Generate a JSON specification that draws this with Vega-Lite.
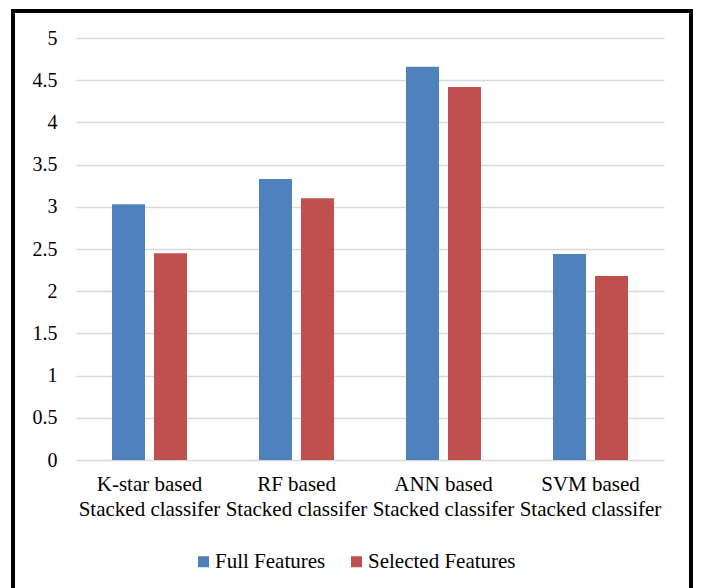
{
  "$schema": "https://vega.github.io/schema/vega-lite/v6.json",
  "autosize": "none",
  "padding": {"left": 13, "top": 11, "right": 10, "bottom": 0},
  "width": 678,
  "height": 580,
  "background": "white",
  "data": {
    "values": [
      {"classifier": "K-star based Stacked classifer", "features": "Full Features", "value": 3.03},
      {"classifier": "K-star based Stacked classifer", "features": "Selected Features", "value": 2.45},
      {"classifier": "RF based Stacked classifer", "features": "Full Features", "value": 3.33},
      {"classifier": "RF based Stacked classifer", "features": "Selected Features", "value": 3.10},
      {"classifier": "ANN based Stacked classifer", "features": "Full Features", "value": 4.66},
      {"classifier": "ANN based Stacked classifer", "features": "Selected Features", "value": 4.42},
      {"classifier": "SVM based Stacked classifer", "features": "Full Features", "value": 2.44},
      {"classifier": "SVM based Stacked classifer", "features": "Selected Features", "value": 2.18}
    ]
  },
  "mark": {"type": "bar"},
  "encoding": {
    "x": {
      "field": "classifier",
      "type": "nominal",
      "sort": null,
      "scale": {"range": [63, 651], "paddingInner": 0, "paddingOuter": 0},
      "axis": {
        "orient": "bottom",
        "offset": -131,
        "title": null,
        "domain": false,
        "ticks": false,
        "grid": false,
        "labelAngle": 0,
        "labelExpr": "[replace(datum.label, ' Stacked classifer', ''), 'Stacked classifer']",
        "labelFontSize": 21,
        "labelColor": "black",
        "labelLineHeight": 25,
        "labelPadding": 13
      }
    },
    "xOffset": {
      "field": "features",
      "type": "nominal",
      "scale": {"paddingInner": 0.214, "paddingOuter": 0.857}
    },
    "y": {
      "field": "value",
      "type": "quantitative",
      "scale": {"domain": [0, 5], "range": [449, 27], "nice": false, "zero": true},
      "axis": {
        "orient": "left",
        "offset": -63,
        "title": null,
        "domain": false,
        "ticks": false,
        "values": [0, 0.5, 1, 1.5, 2, 2.5, 3, 3.5, 4, 4.5, 5],
        "format": "~g",
        "grid": true,
        "gridColor": "#D9D9D9",
        "gridWidth": 1.5,
        "labelFontSize": 20,
        "labelColor": "black",
        "labelPadding": 19
      }
    },
    "color": {
      "field": "features",
      "type": "nominal",
      "scale": {"range": ["#4F81BD", "#C0504D"]},
      "legend": {
        "orient": "none",
        "legendX": 180,
        "legendY": 540,
        "direction": "horizontal",
        "title": null,
        "padding": 0,
        "symbolType": "square",
        "symbolSize": 121,
        "symbolStrokeWidth": 0,
        "labelFontSize": 21,
        "labelColor": "black",
        "labelOffset": 1,
        "columnPadding": 20
      }
    }
  },
  "config": {
    "font": "Liberation Serif",
    "axis": {"labelFont": "Liberation Serif"},
    "legend": {"labelFont": "Liberation Serif"},
    "view": {"stroke": "black", "strokeWidth": 4}
  }
}
